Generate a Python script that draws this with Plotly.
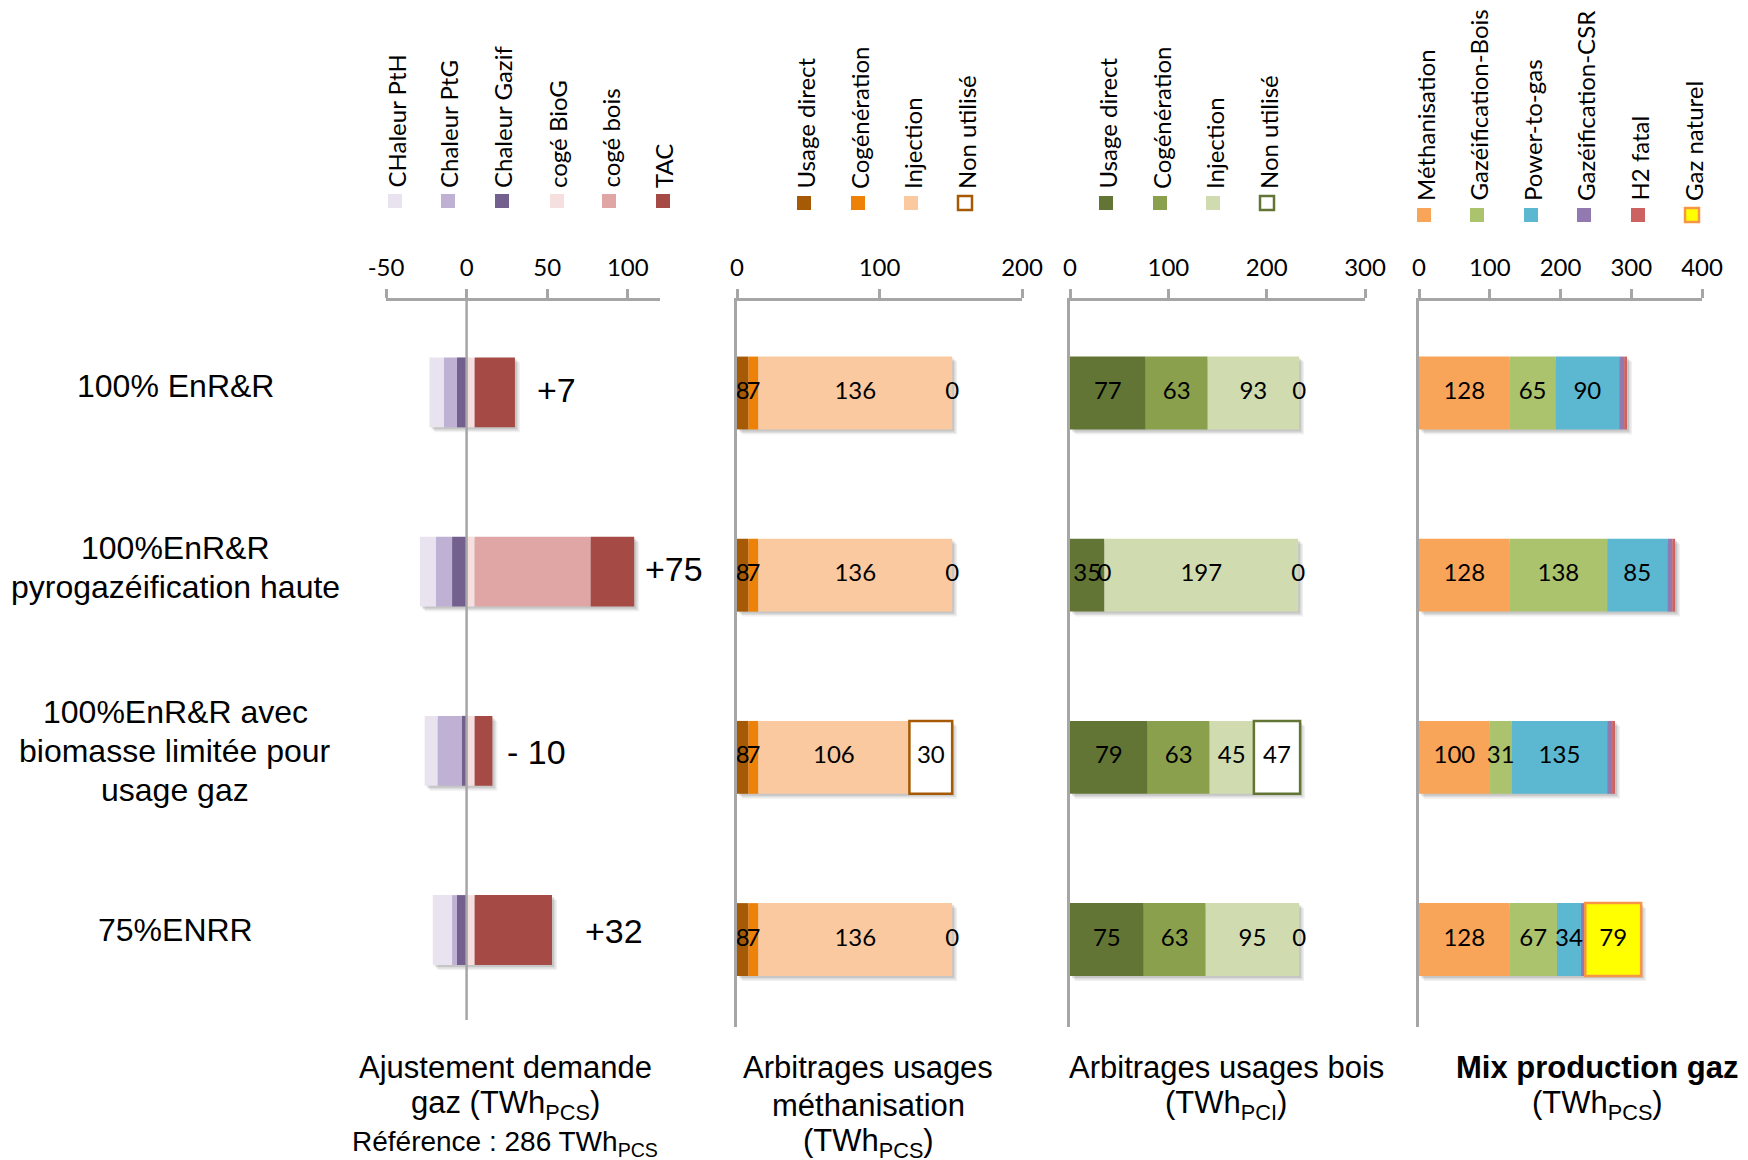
import numpy as np
import plotly.graph_objects as go

W, H = 1748, 1160

# ---------------------------------------------------------------- data
scenarios = [
    "100% EnR&R",
    "100%EnR&R<br>pyrogazéification haute",
    "100%EnR&R avec<br>biomasse limitée pour<br>usage gaz",
    "75%ENRR",
]

# Ajustement demande gaz (TWh PCS)
dem_labels = ["CHaleur PtH", "Chaleur PtG", "Chaleur Gazif", "cogé BioG", "cogé bois", "TAC"]
chaleur_pth = [-9, -10, -8, -12]
chaleur_ptg = [-8, -10, -15, -3]
chaleur_gazif = [-6, -9, -3, -6]
coge_biog = [5, 5, 5, 5]
coge_bois = [0, 72, 0, 0]
tac = [25, 27, 11, 48]

# Arbitrages usages méthanisation (TWh PCS)
usage_labels = ["Usage direct", "Cogénération", "Injection", "Non utilisé"]
meth_direct = [8, 8, 8, 8]
meth_coge = [7, 7, 7, 7]
meth_injection = [136, 136, 106, 136]
meth_non_utilise = [0, 0, 30, 0]

# Arbitrages usages bois (TWh PCI)
bois_direct = [77, 35, 79, 75]
bois_coge = [63, 0, 63, 63]
bois_injection = [93, 197, 45, 95]
bois_non_utilise = [0, 0, 47, 0]

# Mix production gaz (TWh PCS)
mix_labels = ["Méthanisation", "Gazéification-Bois", "Power-to-gas",
              "Gazéification-CSR", "H2 fatal", "Gaz naturel"]
mix_methanisation = [128, 128, 100, 128]
mix_gazeif_bois = [65, 138, 31, 67]
mix_power_to_gas = [90, 85, 135, 34]
mix_gazeif_csr = [7, 7, 7, 6]
mix_h2_fatal = [4, 4, 4, 0]
mix_gaz_naturel = [0, 0, 0, 79]

# ---------------------------------------------------------------- style
CAL = "Lato, 'Open Sans', sans-serif"
ARIAL = "'Liberation Sans', Arial, sans-serif"
AXIS_GREY = "#A6A6A6"

dem_colors = ["#E9E3EF", "#BFB1D4", "#74608F", "#F6DFDF", "#E0A6A5", "#A64A45"]
meth_colors = ["#A65A06", "#EE8209", "#FAC9A0", "#FFFFFF"]
meth_outline = "#A65A06"
bois_colors = ["#637534", "#8BA04C", "#D0DCAF", "#FFFFFF"]
bois_outline = "#637534"
mix_colors = ["#F8A55A", "#ACC36E", "#5BB8D0", "#9279B0", "#CC6360", "#FFFF00"]
gaz_outline = "#F79646"


def px(x):
    return x / W


def py(y):
    return 1 - y / H


# x-domains / y-domains (pixels) and ranges of the four panels
panels = [
    dict(x0=386, x1=660, rng=[-50, 120], ticks=[-50, 0, 50, 100],
         y0=301, y1=1020, yrng=[3.502, -0.51], bw=0.39),
    dict(x0=737, x1=1022, rng=[0, 200], ticks=[0, 100, 200],
         y0=301, y1=1027, yrng=[3.48, -0.505], bw=0.40),
    dict(x0=1070, x1=1365, rng=[0, 300], ticks=[0, 100, 200, 300],
         y0=301, y1=1027, yrng=[3.48, -0.505], bw=0.40),
    dict(x0=1419, x1=1702, rng=[0, 400], ticks=[0, 100, 200, 300, 400],
         y0=301, y1=1027, yrng=[3.48, -0.505], bw=0.40),
]
rows = np.arange(len(scenarios))

fig = go.Figure()


def axes_of(k):
    return ("x" if k == 1 else f"x{k}"), ("y" if k == 1 else f"y{k}")


def units_per_px(k):
    p = panels[k - 1]
    xu = (p["rng"][1] - p["rng"][0]) / (p["x1"] - p["x0"])
    yu = (p["yrng"][0] - p["yrng"][1]) / (p["y1"] - p["y0"])
    return xu, yu


def add_shadow(k, left, right):
    """Soft drop shadow under a whole stacked bar."""
    xa, ya = axes_of(k)
    bw = panels[k - 1]["bw"]
    xu, yu = units_per_px(k)
    left = np.asarray(left, float)
    right = np.asarray(right, float)
    for d, a in [(5, 0.06), (3.5, 0.08), (2, 0.10)]:
        fig.add_trace(go.Bar(
            x=right - left, y=rows, base=left + d * xu, orientation="h",
            width=bw, offset=-bw / 2 + d * yu,
            marker=dict(color=f"rgba(0,0,0,{a})", line=dict(width=0)),
            xaxis=xa, yaxis=ya, hoverinfo="skip", showlegend=False,
        ))


def add_bar(k, values, base, color, line_color=None, line_w=0.0):
    xa, ya = axes_of(k)
    bw = panels[k - 1]["bw"]
    values = np.asarray(values, dtype=float)
    widths = [line_w if v != 0 else 0 for v in values] if line_color else 0
    fig.add_trace(go.Bar(
        x=values, y=rows, base=base, orientation="h", width=bw,
        marker=dict(color=color,
                    line=dict(color=line_color or color, width=widths)),
        xaxis=xa, yaxis=ya, hoverinfo="skip", showlegend=False,
    ))


def add_labels(k, values, base, show_zero=True):
    xa, ya = axes_of(k)
    values = np.asarray(values, dtype=float)
    base = np.asarray(base, dtype=float)
    mask = np.ones(len(values), bool) if show_zero else values != 0
    fig.add_trace(go.Scatter(
        x=(base + values / 2)[mask], y=rows[mask], mode="text",
        text=[f"{int(v)}" for v in values[mask]],
        textfont=dict(family=CAL, size=24, color="black"),
        textposition="middle center", cliponaxis=False,
        xaxis=xa, yaxis=ya, hoverinfo="skip", showlegend=False,
    ))


def stack(series):
    arr = np.asarray(series, dtype=float)
    bases = np.vstack([np.zeros(arr.shape[1]), np.cumsum(arr, axis=0)[:-1]])
    return arr, bases


# ---- panel 1: negatives stack leftwards from 0 (Gazif nearest to 0)
neg, neg_base = stack([chaleur_gazif, chaleur_ptg, chaleur_pth])
pos, pos_base = stack([coge_biog, coge_bois, tac])
add_shadow(1, neg.sum(axis=0), pos.sum(axis=0))
for vals, b, col in zip(neg, neg_base, [dem_colors[2], dem_colors[1], dem_colors[0]]):
    add_bar(1, vals, b, col)
for vals, b, col in zip(pos, pos_base, dem_colors[3:]):
    add_bar(1, vals, b, col)

# ---- panel 2
arr, bases = stack([meth_direct, meth_coge, meth_injection, meth_non_utilise])
add_shadow(2, np.zeros(len(rows)), arr.sum(axis=0))
for i, (vals, b) in enumerate(zip(arr, bases)):
    if i == 3:
        add_bar(2, vals, b, meth_colors[i], meth_outline, 2.5)
    else:
        add_bar(2, vals, b, meth_colors[i])
for vals, b in zip(arr, bases):
    add_labels(2, vals, b)

# ---- panel 3
arr, bases = stack([bois_direct, bois_coge, bois_injection, bois_non_utilise])
add_shadow(3, np.zeros(len(rows)), arr.sum(axis=0))
for i, (vals, b) in enumerate(zip(arr, bases)):
    if i == 3:
        add_bar(3, vals, b, bois_colors[i], bois_outline, 2.5)
    else:
        add_bar(3, vals, b, bois_colors[i])
for vals, b in zip(arr, bases):
    add_labels(3, vals, b)

# ---- panel 4
arr, bases = stack([mix_methanisation, mix_gazeif_bois, mix_power_to_gas,
                    mix_gazeif_csr, mix_h2_fatal, mix_gaz_naturel])
add_shadow(4, np.zeros(len(rows)), arr.sum(axis=0))
for i, (vals, b) in enumerate(zip(arr, bases)):
    if i == 5:
        add_bar(4, vals, b, mix_colors[i], gaz_outline, 2.5)
    else:
        add_bar(4, vals, b, mix_colors[i])
for i in [0, 1, 2, 5]:
    add_labels(4, arr[i], bases[i], show_zero=False)

# ---------------------------------------------------------------- axes
layout = dict(
    width=W, height=H,
    margin=dict(l=0, r=0, t=0, b=0, pad=0, autoexpand=False),
    paper_bgcolor="white", plot_bgcolor="white",
    barmode="overlay", showlegend=False,
)
for k, p in enumerate(panels, start=1):
    sfx = "" if k == 1 else str(k)
    layout[f"xaxis{sfx}"] = dict(
        domain=[px(p["x0"]), px(p["x1"])], range=p["rng"],
        anchor=f"y{sfx}", side="top", showgrid=False, zeroline=False,
        showline=True, linecolor=AXIS_GREY, linewidth=2.5,
        ticks="outside", ticklen=9, tickwidth=2.5, tickcolor=AXIS_GREY,
        tickvals=p["ticks"], ticktext=[str(t) for t in p["ticks"]],
        tickfont=dict(family=CAL, size=24, color="black"),
        ticklabelstandoff=4, fixedrange=True, automargin=False,
    )
    layout[f"yaxis{sfx}"] = dict(
        domain=[py(p["y1"]), py(p["y0"])], range=p["yrng"],
        anchor=f"x{sfx}", showgrid=False, zeroline=False,
        showline=(k != 1), linecolor=AXIS_GREY, linewidth=2.5,
        showticklabels=False, ticks="", fixedrange=True, automargin=False,
    )
fig.update_layout(**layout)

shapes = []
annotations = []

# vertical zero line of the demand panel, above the bars
shapes.append(dict(type="line", xref="x", yref="paper", x0=0, x1=0,
                   y0=py(panels[0]["y1"]), y1=py(panels[0]["y0"]), layer="above",
                   line=dict(color=AXIS_GREY, width=2.5)))

# net demand adjustment labels next to each bar
net = (np.array(chaleur_pth) + np.array(chaleur_ptg) + np.array(chaleur_gazif)
       + np.array(coge_biog) + np.array(coge_bois) + np.array(tac))
right_end = np.array(coge_biog) + np.array(coge_bois) + np.array(tac)
net_xshift = [20, 9, 13, 31]
net_yshift = [2.5, 2.5, -1, -1]
for i, n in enumerate(net):
    txt = f"+{n}" if n >= 0 else f"- {abs(n)}"
    annotations.append(dict(x=right_end[i], y=rows[i], xref="x", yref="y",
                            text=txt, showarrow=False, xanchor="left",
                            xshift=net_xshift[i], yshift=net_yshift[i],
                            font=dict(family=ARIAL, size=34, color="black")))

# scenario labels on the left, one annotation per line for a tighter leading
label_yshift = [6, 4, 0, 0]
LINE_GAP = 39
for i, s in enumerate(scenarios):
    lines = s.split("<br>")
    n = len(lines)
    for j, line in enumerate(lines):
        off = (j - (n - 1) / 2) * LINE_GAP
        annotations.append(dict(x=px(175), y=rows[i], xref="paper", yref="y",
                                text=line, showarrow=False, xanchor="center",
                                yanchor="middle", align="center",
                                yshift=label_yshift[i] - off,
                                font=dict(family=ARIAL, size=32, color="black")))


# legends: vertical text above small squares
def legend(labels, colors, xs, sq_y, text_y, outlines=None):
    for j, (lab, col, x) in enumerate(zip(labels, colors, xs)):
        oc = outlines.get(j) if outlines else None
        shapes.append(dict(type="rect", xref="paper", yref="paper",
                           x0=px(x - 7), x1=px(x + 7), y0=py(sq_y + 7), y1=py(sq_y - 7),
                           fillcolor=col,
                           line=dict(color=oc or col, width=2.5 if oc else 0)))
        annotations.append(dict(x=px(x + 1), y=py(text_y), xref="paper", yref="paper",
                                text=lab, textangle=-90, showarrow=False,
                                xanchor="center", yanchor="bottom",
                                font=dict(family=CAL, size=24, color="black")))


legend(dem_labels, dem_colors, [395, 448, 502, 557, 609, 663], 201, 190)
legend(usage_labels, meth_colors, [804, 858, 911, 965], 203, 191, {3: meth_outline})
legend(usage_labels, bois_colors, [1106, 1160, 1213, 1267], 203, 191, {3: bois_outline})
legend(mix_labels, mix_colors, [1424, 1477, 1531, 1584, 1638, 1692], 215, 203,
       {5: gaz_outline})

# panel titles below the charts
titles = [
    (505, ["Ajustement demande", "gaz (TWh<sub>PCS</sub>)"]),
    (868, ["Arbitrages usages", "méthanisation", "(TWh<sub>PCS</sub>)"]),
    (1226, ["Arbitrages usages bois", "(TWh<sub>PCI</sub>)"]),
    (1597, ["<b>Mix production gaz</b>", "(TWh<sub>PCS</sub>)"]),
]
for x, lines in titles:
    for j, line in enumerate(lines):
        annotations.append(dict(x=px(x), y=py(1067 + 38 * j), xref="paper", yref="paper",
                                text=line, showarrow=False, xanchor="center",
                                yanchor="middle",
                                font=dict(family=ARIAL, size=31, color="black")))
annotations.append(dict(x=px(505), y=py(1143), xref="paper", yref="paper",
                        text="Référence : 286 TWh<sub>PCS</sub>", showarrow=False,
                        xanchor="center", yanchor="middle",
                        font=dict(family=ARIAL, size=28, color="black")))

fig.update_layout(shapes=shapes, annotations=annotations)
fig.write_html("out.html")
